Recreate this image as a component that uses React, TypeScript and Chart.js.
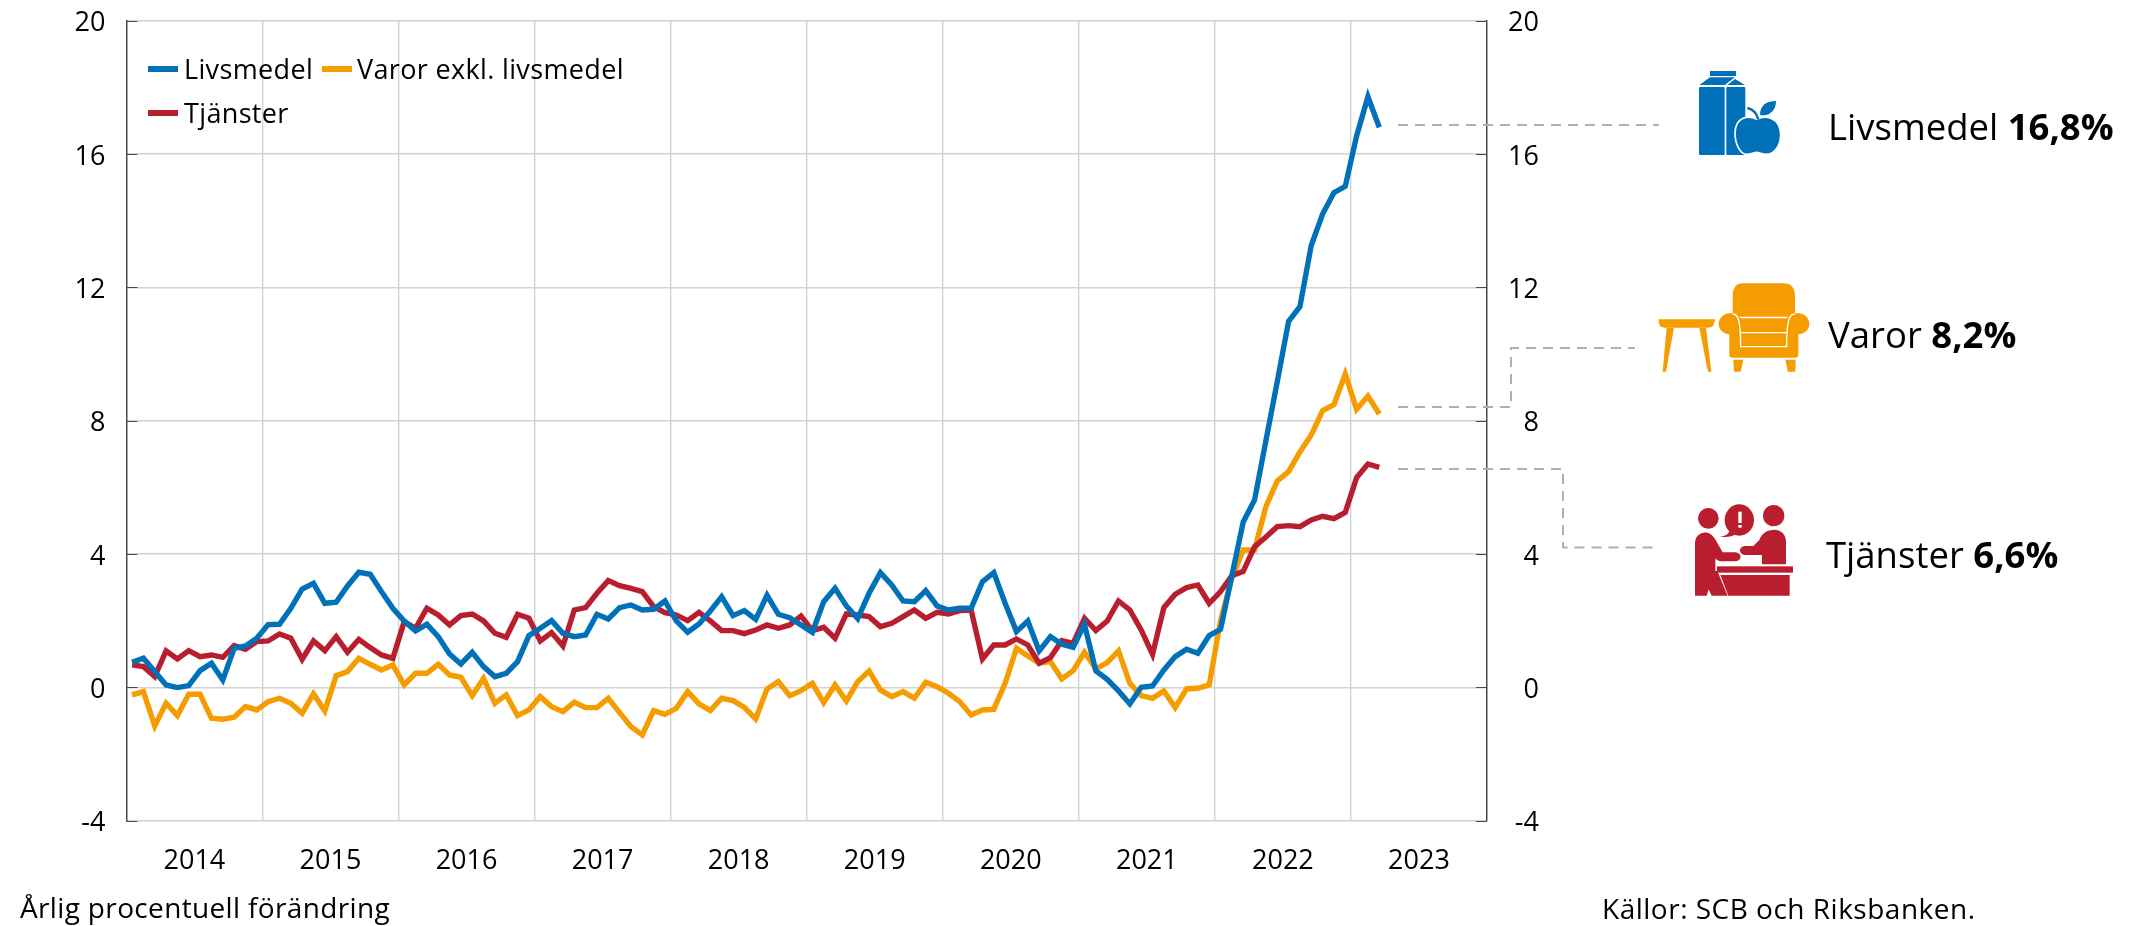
import React, { useEffect, useRef } from "react";
import { Chart, registerables } from "chart.js";

Chart.register(...registerables);

const YEARS = ["2014", "2015", "2016", "2017", "2018", "2019", "2020", "2021", "2022", "2023"];
const MONTHS = YEARS.flatMap((y) => ["01", "02", "03", "04", "05", "06", "07", "08", "09", "10", "11", "12"].map((m) => `${y}-${m}`));
const Y_TICKS = [-4, 0, 4, 8, 12, 16, 20];

const LIVSMEDEL = [
  0.75, 0.87, 0.47, 0.07, -0.01, 0.05, 0.5, 0.72, 0.22, 1.17, 1.24, 1.47,
  1.88, 1.89, 2.37, 2.95, 3.12, 2.52, 2.55, 3.04, 3.45, 3.39, 2.87, 2.37,
  1.99, 1.69, 1.89, 1.52, 1.0, 0.7, 1.05, 0.62, 0.32, 0.42, 0.77, 1.55,
  1.77, 2.0, 1.62, 1.52, 1.57, 2.19, 2.05, 2.39, 2.47, 2.32, 2.34, 2.59,
  1.99, 1.65, 1.9, 2.29, 2.72, 2.15, 2.3, 2.04, 2.76, 2.19, 2.09, 1.87,
  1.65, 2.57, 2.97, 2.44, 2.06, 2.82, 3.44, 3.07, 2.59, 2.57, 2.9, 2.44,
  2.32, 2.37, 2.37, 3.17, 3.44, 2.52, 1.67, 1.99, 1.09, 1.52, 1.29, 1.2,
  1.89, 0.49, 0.24, -0.11, -0.5, 0.0, 0.04, 0.52, 0.92, 1.14, 1.02, 1.55,
  1.74, 3.35, 4.96, 5.62, 7.4, 9.17, 10.98, 11.42, 13.26, 14.2, 14.84, 15.03,
  16.54, 17.72, 16.8,
];
const VAROR = [
  -0.23, -0.13, -1.16, -0.48, -0.85, -0.21, -0.21, -0.93, -0.96, -0.9, -0.58, -0.68,
  -0.43, -0.33, -0.48, -0.78, -0.2, -0.71, 0.35, 0.47, 0.87, 0.69, 0.52, 0.67,
  0.07, 0.42, 0.42, 0.69, 0.37, 0.3, -0.25, 0.27, -0.48, -0.23, -0.85, -0.68,
  -0.28, -0.58, -0.73, -0.45, -0.61, -0.61, -0.33, -0.76, -1.18, -1.43, -0.7, -0.81,
  -0.63, -0.13, -0.5, -0.7, -0.33, -0.4, -0.6, -0.95, -0.05, 0.17, -0.25, -0.1,
  0.12, -0.46, 0.07, -0.41, 0.17, 0.49, -0.08, -0.28, -0.13, -0.33, 0.15, 0.02,
  -0.18, -0.43, -0.83, -0.68, -0.66, 0.12, 1.17, 0.94, 0.72, 0.77, 0.25, 0.5,
  1.05, 0.55, 0.74, 1.09, 0.12, -0.25, -0.33, -0.11, -0.61, -0.05, -0.03, 0.07,
  2.0, 3.28, 4.12, 4.12, 5.42, 6.19, 6.47, 7.06, 7.57, 8.3, 8.48, 9.4,
  8.34, 8.74, 8.2,
];
const TJANSTER = [
  0.67, 0.62, 0.32, 1.09, 0.85, 1.1, 0.92, 0.97, 0.9, 1.25, 1.14, 1.37,
  1.39, 1.6, 1.47, 0.84, 1.39, 1.1, 1.52, 1.05, 1.44, 1.19, 0.97, 0.87,
  1.97, 1.77, 2.37, 2.17, 1.87, 2.15, 2.2, 1.99, 1.62, 1.5, 2.19, 2.07,
  1.39, 1.64, 1.24, 2.32, 2.39, 2.82, 3.2, 3.05, 2.97, 2.87, 2.42, 2.24,
  2.17, 2.0, 2.25, 1.99, 1.7, 1.7, 1.61, 1.72, 1.87, 1.77, 1.87, 2.14,
  1.7, 1.8, 1.47, 2.2, 2.17, 2.12, 1.82, 1.92, 2.12, 2.32, 2.07, 2.25,
  2.2, 2.3, 2.32, 0.85, 1.27, 1.27, 1.45, 1.27, 0.72, 0.89, 1.4, 1.32,
  2.07, 1.7, 1.99, 2.59, 2.32, 1.72, 0.99, 2.39, 2.79, 2.99, 3.07, 2.52,
  2.87, 3.35, 3.48, 4.22, 4.51, 4.82, 4.85, 4.82, 5.02, 5.13, 5.06, 5.25,
  6.29, 6.7, 6.6,
];

const BLUE = "#0071b9";
const ORANGE = "#f59c00";
const RED = "#b81e2d";
const FONT = "'Open Sans'";
const GRID = "#d2d2d2";
const AXIS = "#4a4a4a";
const DASH = "#b0aeb0";

const innerTicks = {
  id: "innerTicks",
  beforeDraw(chart: any) {
    // The value labels sit a little below their grid lines in the reference.
    for (const id of ["y", "y2"]) {
      for (const item of chart.scales[id].getLabelItems()) {
        if (!item.shifted) {
          item.options.translation[1] += 3;
          item.shifted = true;
        }
      }
    }
  },
  afterDatasetsDraw(chart: any) {
    const { ctx, chartArea, scales } = chart;
    ctx.save();
    ctx.strokeStyle = AXIS;
    ctx.lineWidth = 1;
    for (const v of Y_TICKS) {
      const y = Math.round(scales.y.getPixelForValue(v)) + 0.5;
      ctx.beginPath();
      ctx.moveTo(chartArea.left, y);
      ctx.lineTo(chartArea.left + 11, y);
      ctx.moveTo(chartArea.right - 11, y);
      ctx.lineTo(chartArea.right, y);
      ctx.stroke();
    }
    ctx.restore();
  },
};

const textBase: React.CSSProperties = {
  position: "absolute",
  fontFamily: FONT,
  color: "#000",
  whiteSpace: "nowrap",
  lineHeight: 1,
};

function Legend() {
  const items = [
    { name: "Livsmedel", color: BLUE, sx: 148, tx: 184, y: 69 },
    { name: "Varor exkl. livsmedel", color: ORANGE, sx: 321.5, tx: 357, y: 69 },
    { name: "Tjänster", color: RED, sx: 148, tx: 184, y: 113 },
  ];
  return (
    <>
      {items.map((it) => (
        <React.Fragment key={it.name}>
          <div style={{ position: "absolute", left: it.sx, top: it.y - 3, width: 30, height: 6, background: it.color }} />
          <div style={{ ...textBase, left: it.tx, top: it.y - 14, fontSize: 27, letterSpacing: 0.35 }}>{it.name}</div>
        </React.Fragment>
      ))}
    </>
  );
}

function Overlay() {
  const dash = { fill: "none", stroke: DASH, strokeWidth: 2, strokeDasharray: "10 7" };
  return (
    <svg width={2141} height={926} style={{ position: "absolute", left: 0, top: 0 }}>
      <path d="M1398 125H1659" {...dash} />
      <path d="M1398 407H1511V348H1635" {...dash} />
      <path d="M1398 469H1563V547.5H1654" {...dash} />

      {/* mjölk och äpple */}
      <g transform="translate(1650 60) scale(0.3333)" fill={BLUE}>
        <rect x={180} y={33} width={78} height={15} />
        <path d="M148 75L180 52H255L228 72L225 75Z" />
        <path d="M232 75L255 57L285 75Z" />
        <rect x={147} y={81} width={77} height={204} rx={3} />
        <rect x={229} y={81} width={57} height={204} rx={3} />
        <path d="M320 178C345 165 392 170 392 225C392 260 370 283 350 283C335 283 330 277 320 277C310 277 305 283 290 283C270 283 255 250 255 220C255 170 295 165 320 178Z" stroke="#fff" strokeWidth={5} />
        <path d="M330 165C330 135 350 123 378 123C378 150 360 170 330 165Z" />
        <path d="M292 144C310 148 320 160 325 178" fill="none" stroke={BLUE} strokeWidth={7} />
      </g>

      {/* bord och fåtölj */}
      <g transform="translate(1650 275) scale(0.3333)" fill={ORANGE}>
        <path d="M25 133H196L190 150Q188 158 170 158H45Q30 158 28 148Z" />
        <path d="M50 158H72L48 290H38Z" />
        <path d="M148 158H168L184 290H174Z" />
        <path d="M280 25H400Q435 25 435 65V125H248V65Q248 25 280 25Z" />
        <path d="M240 115C250 115 262 118 272 130H410C420 118 432 115 445 115C465 115 478 130 478 148C478 165 462 178 445 178V240Q445 248 435 248H248Q238 248 238 240V178C220 175 206 165 206 146C206 130 222 115 240 115Z" />
        <path d="M250 254H280L272 290H252Z" />
        <path d="M406 254H437L436 290H414Z" />
        <path d="M248 118C262 115 272 130 272 215H410C410 130 420 115 435 118M272 173H410" fill="none" stroke="#fff" strokeWidth={4} />
      </g>

      {/* personer */}
      <g transform="translate(1670 495) scale(0.3333)" fill={RED}>
        <circle cx={115} cy={70} r={31} />
        <circle cx={311} cy={62} r={32} />
        <ellipse cx={208} cy={75} rx={44} ry={47} />
        <path d="M178 108C175 118 165 124 150 125C175 128 192 122 200 116Z" />
        <path d="M75 145C75 120 95 110 112 113C130 116 140 140 158 172H195Q212 174 212 186Q210 198 195 199H150Q140 198 136 190V228H142L173 302H125L116 283L110 302H75Z" />
        <path d="M268 135C275 115 290 104 315 104C335 105 348 120 348 140V208H276V180H225Q210 178 210 166Q210 155 225 153H250Z" />
        <rect x={141} y={214} width={228} height={19} />
        <path d="M151 240H359V302H175Z" />
        <rect x={205} y={50} width={10} height={34} fill="#fff" />
        <rect x={205} y={90} width={10} height={8} fill="#fff" />
      </g>
    </svg>
  );
}

const noPad = (s: any) => {
  s.paddingTop = 0;
  s.paddingBottom = 0;
  s.paddingLeft = 0;
  s.paddingRight = 0;
};

export default function App() {
  const canvasRef = useRef<HTMLCanvasElement>(null);

  useEffect(() => {
    const line = (label: string, data: number[], color: string, order: number) => ({
      label,
      data,
      borderColor: color,
      backgroundColor: color,
      borderWidth: 5.4,
      pointRadius: 0,
      tension: 0,
      borderJoinStyle: "miter" as const,
      borderCapStyle: "butt" as const,
      order,
      xAxisID: "x",
      yAxisID: "y",
    });

    const chart = new Chart(canvasRef.current!, {
      type: "line",
      data: {
        labels: MONTHS,
        datasets: [
          line("Livsmedel", LIVSMEDEL, BLUE, 0),
          line("Varor exkl. livsmedel", VAROR, ORANGE, 2),
          line("Tjänster", TJANSTER, RED, 1),
        ],
      },
      plugins: [innerTicks],
      options: {
        animation: false,
        responsive: false,
        layout: { autoPadding: false, padding: { top: 20.7, right: 602, left: 0, bottom: 0 } },
        plugins: { legend: { display: false }, tooltip: { enabled: false } },
        scales: {
          x: {
            type: "category",
            offset: true,
            position: "bottom",
            afterFit: (s: any) => { s.height = 0; noPad(s); },
            border: { display: false },
            grid: {
              offset: true,
              drawTicks: false,
              color: (c: any) => (c.index % 12 === 0 && c.index > 0 ? GRID : "transparent"),
              lineWidth: 1.4,
            },
            ticks: { display: false, autoSkip: false },
          },
          years: {
            type: "category",
            labels: YEARS,
            offset: true,
            position: "bottom",
            afterFit: (s: any) => { s.height = 105.4; noPad(s); },
            border: { display: false },
            grid: { display: false, drawTicks: false },
            ticks: {
              color: "#000",
              padding: 25,
              maxRotation: 0,
              autoSkip: false,
              font: { family: FONT, size: 27 },
            },
          },
          y: {
            type: "linear",
            position: "left",
            min: -4,
            max: 20,
            afterFit: (s: any) => { s.width = 126.4; noPad(s); },
            afterBuildTicks: (s: any) => { s.ticks = Y_TICKS.map((value) => ({ value })); },
            border: { display: true, color: AXIS, width: 1.5 },
            grid: { color: GRID, lineWidth: 1.4, drawTicks: false },
            ticks: { color: "#000", padding: 21, font: { family: FONT, size: 27 } },
          },
          y2: {
            type: "linear",
            position: "right",
            min: -4,
            max: 20,
            afterFit: (s: any) => { s.width = 52; noPad(s); },
            afterBuildTicks: (s: any) => { s.ticks = Y_TICKS.map((value) => ({ value })); },
            border: { display: true, color: AXIS, width: 1.5 },
            grid: { display: false, drawTicks: false },
            ticks: { color: "#000", crossAlign: "far", font: { family: FONT, size: 27 } },
          },
        },
      } as any,
    });
    return () => chart.destroy();
  }, []);

  return (
    <div style={{ position: "fixed", left: 0, top: 0, width: 2141, height: 926, background: "#fff", overflow: "hidden" }}>
      <canvas ref={canvasRef} width={2141} height={926} style={{ position: "absolute", left: 0, top: 0 }} />
      <Overlay />
      <Legend />
      <div style={{ ...textBase, left: 1828, top: 107.5, fontSize: 36.5 }}>Livsmedel <b>16,8%</b></div>
      <div style={{ ...textBase, left: 1828, top: 316, fontSize: 36.5 }}>Varor <b>8,2%</b></div>
      <div style={{ ...textBase, left: 1826, top: 536, fontSize: 36.5 }}>Tjänster <b>6,6%</b></div>
      <div style={{ ...textBase, left: 20, top: 892.5, fontSize: 28, letterSpacing: 0.35 }}>Årlig procentuell förändring</div>
      <div style={{ ...textBase, left: 1602, top: 893.5, fontSize: 28, letterSpacing: 0.5 }}>Källor: SCB och Riksbanken.</div>
    </div>
  );
}
